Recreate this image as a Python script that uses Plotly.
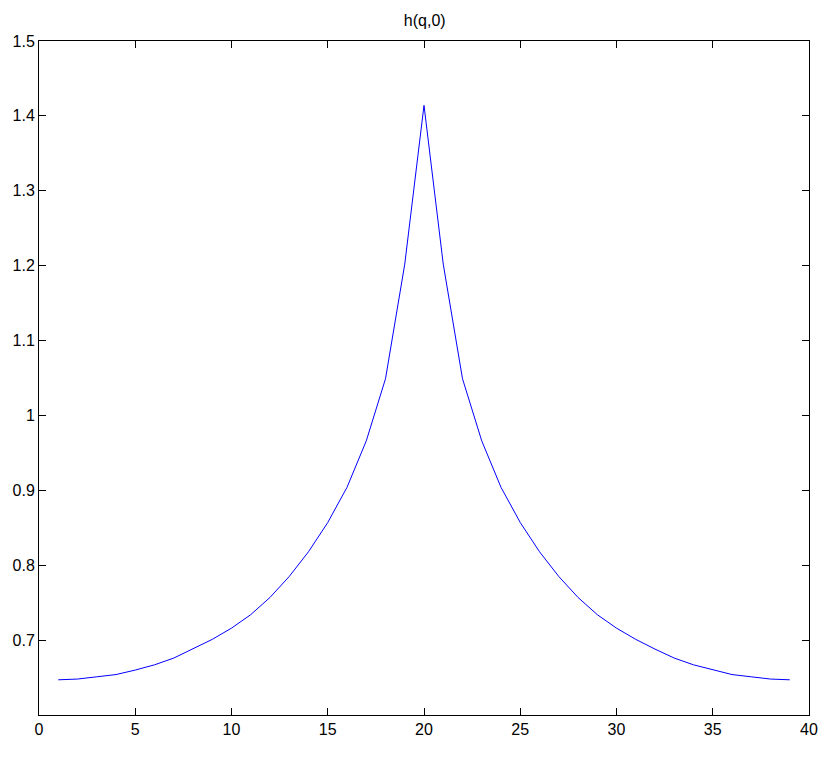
import plotly.graph_objs as go

q = list(range(1, 40))
h_left = [0.647, 0.648, 0.651, 0.654, 0.660, 0.667, 0.676, 0.688, 0.701, 0.716,
          0.734, 0.757, 0.785, 0.818, 0.857, 0.904, 0.966, 1.049, 1.202]
h_peak = [1.414]
h = h_left + h_peak + h_left[::-1]

x_ticks = [0, 5, 10, 15, 20, 25, 30, 35, 40]
y_ticks = [0.7, 0.8, 0.9, 1.0, 1.1, 1.2, 1.3, 1.4, 1.5]
y_labels = ["0.7", "0.8", "0.9", "1", "1.1", "1.2", "1.3", "1.4", "1.5"]

fig = go.Figure()
fig.add_trace(go.Scatter(x=q, y=h, mode="lines", line=dict(color="#0000ff", width=1),
                         showlegend=False))

# matlab-ish box axes, ticks pointing in on all four sides
axis_style = dict(showline=True, linecolor="black", linewidth=1, mirror="ticks",
                  ticks="inside", ticklen=7, tickcolor="black", tickwidth=1,
                  showgrid=False, zeroline=False, automargin=False,
                  tickfont=dict(family="Liberation Sans, Arial, sans-serif", size=16, color="black"))

# page body has an 8px margin, so the figure is a bit smaller than the window
fig.update_layout(
    width=822, height=754,
    margin=dict(l=31, r=21, t=33, b=47),
    paper_bgcolor="white", plot_bgcolor="white",
    title=dict(text="h(q,0)", x=0.507, xanchor="center", y=0.984, yanchor="middle",
               font=dict(family="Liberation Sans, Arial, sans-serif", size=16, color="black")),
    xaxis=dict(range=[0, 40], tickvals=x_ticks, **axis_style),
    yaxis=dict(range=[0.6, 1.5], tickvals=y_ticks, ticktext=y_labels, **axis_style),
)

fig.write_html("out.html")
